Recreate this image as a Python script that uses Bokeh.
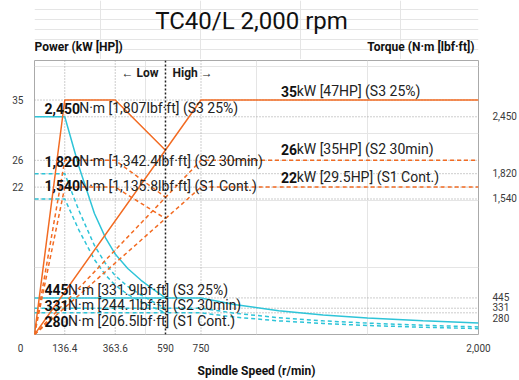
from bokeh.plotting import figure
from bokeh.models import Range1d, Label, Span, LinearAxis, FixedTicker
from bokeh.layouts import column
from bokeh.embed import file_html
from bokeh.resources import INLINE

# ---------------- data ----------------
title_text = "TC40/L 2,000 rpm"
rpm_ticks = [0, 136.4, 363.6, 590, 750, 2000]
rpm_tick_labels = ["0", "136.4", "363.6", "590", "750", "2,000"]
power_ticks = [35, 26, 22]
power_tick_labels = ["35", "26", "22"]
torque_ticks = [2450, 1820, 1540, 445, 331, 280]
torque_tick_labels = ["2,450", "1,820", "1,540", "445", "331", "280"]
gear_change_rpm = 590

# power (kW) - low gear
low_rpm_power = [0, 136.4, 363.6, 590]
low_s3_kw = [0, 35, 35, 27.5]
low_s2_kw = [0, 26, 26, 20.5]
low_s1_kw = [0, 22, 22, 17.3]
# power (kW) - high gear
high_rpm_power = [0, 750, 2000]
high_s3_kw = [0, 35, 35]
high_s2_kw = [0, 26, 26]
high_s1_kw = [0, 22, 22]

# torque (N·m) - low gear
low_rpm_torque = [0, 136.4, 200, 270, 320, 363.6, 420, 480, 540, 590]
low_s3_nm = [2450, 2450, 1900, 1380, 1110, 930, 770, 640, 530, 445]
low_s2_nm = [1820, 1820, 1412, 1025, 825, 691, 572, 476, 394, 331]
low_s1_nm = [1540, 1540, 1195, 868, 698, 585, 484, 403, 333, 280]
# torque (N·m) - high gear
high_rpm_torque = [0, 750, 900, 1100, 1300, 1500, 1750, 2000]
high_s3_nm = [445, 445, 371, 304, 257, 223, 191, 167]
high_s2_nm = [331, 331, 276, 226, 191, 166, 142, 124]
high_s1_nm = [280, 280, 233, 191, 162, 140, 120, 105]

torque_note_bold = ["2,450", "1,820", "1,540", "445", "331", "280"]
torque_note_rest = ["N·m [1,807lbf·ft] (S3 25%)", "N·m [1,342.4lbf·ft] (S2 30min)",
                    "N·m [1,135.8lbf·ft] (S1 Cont.)", "N·m [331.9lbf·ft] (S3 25%)",
                    "N·m [244.1lbf·ft] (S2 30min)", "N·m [206.5lbf·ft] (S1 Cont.)"]
power_note_bold = ["35", "26", "22"]
power_note_rest = ["kW [47HP] (S3 25%)", "kW [35HP] (S2 30min)", "kW [29.5HP] (S1 Cont.)"]

# ---------------- style / layout ----------------
ORANGE = "#F26B22"
CYAN = "#2EC4D8"
GRID = "#9a9a9a"
TICK = "#3a3a3a"
FONT = "Roboto"
X_MAX = 2000
P_MAX = 40.9
T_MIN, T_MAX = 40, 3073
W = 519
HEAD_H = 59
B_LEFT, B_RIGHT = 34, 41

# ---- header strip (title + axis titles); its frame is aligned with the chart frame ----
hdr = figure(width=W, height=HEAD_H, x_range=Range1d(B_LEFT, W - B_RIGHT),
             y_range=Range1d(0, HEAD_H),
             x_axis_location=None, y_axis_location=None, output_backend="svg",
             toolbar_location=None, min_border_left=B_LEFT, min_border_right=B_RIGHT,
             min_border_top=0, min_border_bottom=0)
hdr.outline_line_color = None
hdr.background_fill_color = "white"
hdr.border_fill_color = "white"


def hlab(x, y, text, size, bold=False, align="left"):
    hdr.add_layout(Label(x=x, y=y, text=text, text_font=FONT, text_font_size=f"{size}px",
                         text_font_style="bold" if bold else "normal",
                         text_align=align, text_baseline="middle", text_color="#111111"))


hlab(251, HEAD_H - 20, title_text, 24, align="center")
hlab(34, HEAD_H - 46, "Power (kW [HP])", 12, bold=True, align="left")
hlab(474, HEAD_H - 46, "Torque (N·m [lbf·ft])", 12, bold=True, align="right")

# ---- main chart ----
p = figure(width=W, height=380 - HEAD_H, x_range=Range1d(0, X_MAX), y_range=Range1d(0, P_MAX),
           x_axis_location=None, y_axis_location=None,
           output_backend="svg", toolbar_location=None,
           min_border_left=B_LEFT, min_border_right=B_RIGHT, min_border_top=1,
           min_border_bottom=45)
p.extra_y_ranges = {"torque": Range1d(T_MIN, T_MAX)}
p.outline_line_color = "#aaaaaa"
p.outline_line_width = 1
p.background_fill_color = "white"
p.border_fill_color = "white"


def style_axis(ax, standoff):
    ax.axis_line_color = None
    ax.major_tick_line_color = None
    ax.minor_tick_line_color = None
    ax.major_tick_out = 0
    ax.major_tick_in = 0
    ax.major_label_standoff = standoff
    ax.major_label_text_font = FONT
    ax.major_label_text_font_size = "10px"
    ax.major_label_text_color = TICK


# x axis (tick "0" sits to the left of the corner as in the reference)
x_over = {v: t for v, t in zip(rpm_ticks, rpm_tick_labels)}
x_over[0] = "0" + "\u2007" * 5
xaxis = LinearAxis(ticker=FixedTicker(ticks=rpm_ticks), major_label_overrides=x_over,
                   axis_label="Spindle Speed (r/min)")
style_axis(xaxis, 8)
xaxis.axis_label_text_font = FONT
xaxis.axis_label_text_font_style = "bold"
xaxis.axis_label_text_font_size = "12px"
xaxis.axis_label_text_color = "#111111"
xaxis.axis_label_standoff = 7
p.add_layout(xaxis, "below")

# left power axis
yl = LinearAxis(ticker=FixedTicker(ticks=power_ticks),
                major_label_overrides={v: t for v, t in zip(power_ticks, power_tick_labels)})
style_axis(yl, 11)
p.add_layout(yl, "left")

# right torque axis (the 331/280 labels are stacked below the 445 one, as in the reference)
r_ticks = [2450, 1820, 1540, 445, 280]
r_over = {2450: "2,450", 1820: "1,820", 1540: "1,540", 445: "445", 280: "331\n280"}
yr = LinearAxis(y_range_name="torque", ticker=FixedTicker(ticks=r_ticks),
                major_label_overrides=r_over)
style_axis(yr, 14)
yr.major_label_text_align = "left"
yr.major_label_text_line_height = 1.05
p.add_layout(yr, "right")

# grid lines
for v in rpm_ticks[1:-1]:
    if v == gear_change_rpm:
        continue
    p.add_layout(Span(location=v, dimension="height", line_color=GRID, line_dash="1 2",
                      line_width=1, level="underlay"))
for v in power_ticks:
    p.add_layout(Span(location=v, dimension="width", line_color=GRID, line_dash="1 2",
                      line_width=1, level="underlay"))
for v in torque_ticks:
    p.add_layout(Span(location=v, dimension="width", line_color=GRID, line_dash="1 2",
                      line_width=1, level="underlay", y_range_name="torque"))

# torque curves
p.line(low_rpm_torque, low_s3_nm, color=CYAN, line_width=1.5, y_range_name="torque")
p.line(low_rpm_torque, low_s2_nm, color=CYAN, line_width=1.5, line_dash="4 3", y_range_name="torque")
p.line(low_rpm_torque, low_s1_nm, color=CYAN, line_width=1.5, line_dash="4 3", y_range_name="torque")
p.line(high_rpm_torque, high_s3_nm, color=CYAN, line_width=1.5, y_range_name="torque")
p.line(high_rpm_torque, high_s2_nm, color=CYAN, line_width=1.5, line_dash="4 3", y_range_name="torque")
p.line(high_rpm_torque, high_s1_nm, color=CYAN, line_width=1.5, line_dash="4 3", y_range_name="torque")

# power curves
p.line(low_rpm_power, low_s3_kw, color=ORANGE, line_width=1.5)
p.line(low_rpm_power, low_s2_kw, color=ORANGE, line_width=1.5, line_dash="4 3")
p.line(low_rpm_power, low_s1_kw, color=ORANGE, line_width=1.5, line_dash="4 3")
p.line(high_rpm_power, high_s3_kw, color=ORANGE, line_width=1.5)
p.line(high_rpm_power, high_s2_kw, color=ORANGE, line_width=1.5, line_dash="4 3")
p.line(high_rpm_power, high_s1_kw, color=ORANGE, line_width=1.5, line_dash="4 3")

# gear change divider
p.add_layout(Span(location=gear_change_rpm, dimension="height", line_color="#222222",
                  line_dash="2 2", line_width=1.5))


def lab(x, y, text, size, bold=False, align="left", xo=0, yo=0, color="#1a1a1a",
        yr="default"):
    p.add_layout(Label(x=x, y=y, text=text, x_offset=xo, y_offset=yo,
                       text_font=FONT, text_font_size=f"{size}px",
                       text_font_style="bold" if bold else "normal",
                       text_align=align, text_baseline="middle", text_color=color,
                       y_range_name=yr))


lab(gear_change_rpm, P_MAX, "← Low", 12, bold=True, align="right", xo=-7, yo=-12.5)
lab(gear_change_rpm, P_MAX, "High →", 12, bold=True, align="left", xo=7, yo=-12.5)

# in-chart annotations
FS = 14
def bold_width(s):
    return sum(7.86 if c.isdigit() else 3.2 for c in s)

torque_note_shift = [8.7, 12.5, 13, 8.2, 3, -8.5]
for v, b, r, s in zip(torque_ticks, torque_note_bold, torque_note_rest, torque_note_shift):
    lab(0, v, b, FS, bold=True, xo=10, yo=s, yr="torque", color="#111111")
    lab(0, v, r, FS, xo=10 + bold_width(b), yo=s, yr="torque", color="#222222")

power_note_shift = [8.8, 11.3, 9.9]
for v, b, r, s in zip(power_ticks, power_note_bold, power_note_rest, power_note_shift):
    lab(1110, v, b, FS, bold=True, yo=s, color="#111111")
    lab(1110, v, r, FS, xo=bold_width(b), yo=s, color="#222222")

page = column(hdr, p, spacing=0)
open("out.html", "w").write(file_html(page, INLINE))
